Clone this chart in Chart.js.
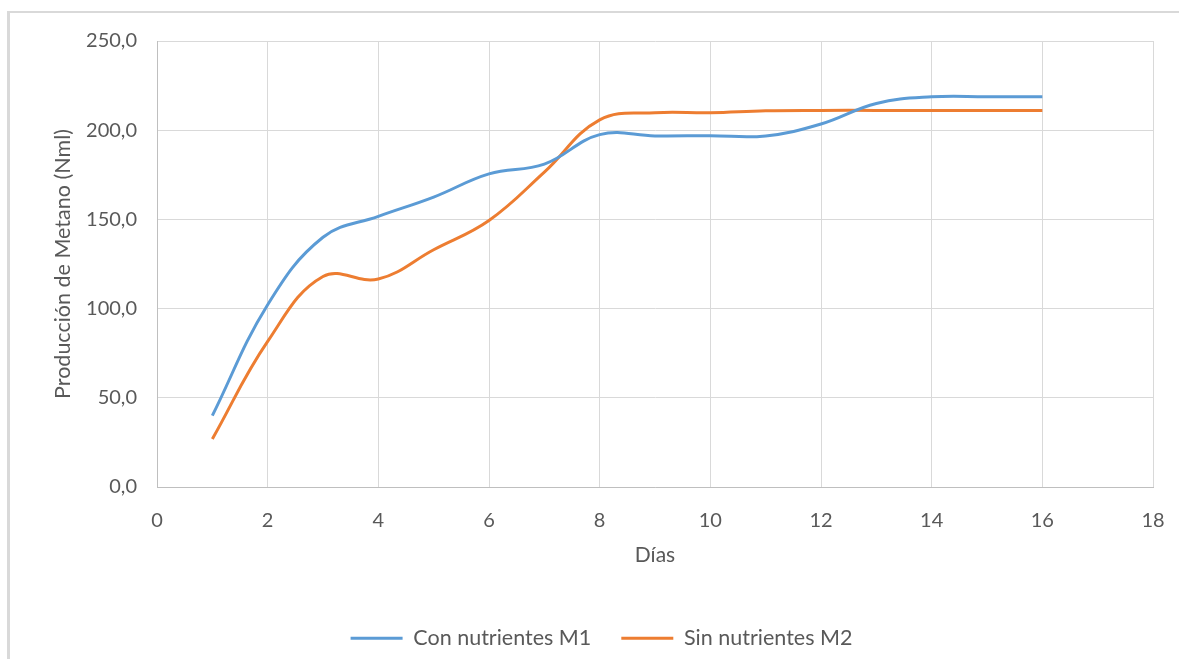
<!DOCTYPE html>
<html>
<head>
<meta charset="utf-8">
<script src="https://cdn.jsdelivr.net/npm/chart.js@4"></script>
<style>
    html, body { margin: 0; padding: 0; background: #fff; }
    #wrap { position: relative; width: 1179px; height: 659px; overflow: hidden; }
    #frame { position: absolute; left: 7px; top: 11px; width: 1300px; height: 800px;
             border-top: 2px solid #d9d9d9; border-left: 3px solid #d9d9d9; }
    canvas { position: absolute; left: 0; top: 0; }
</style>
</head>
<body>
<div id="wrap">
    <div id="frame"></div>
    <canvas id="metanoChart" width="1179" height="659"></canvas>
</div>
<script>
// Producción de metano por día

const dias = [1, 2, 3, 4, 5, 6, 7, 8, 9, 10, 11, 12, 13, 14, 15, 16];
const conNutrientesM1 = [40.0, 102.2, 140.0, 151.7, 162.5, 175.5, 181.0, 197.5, 196.8, 196.9, 196.8, 203.5, 215.0, 218.7, 218.8, 218.8];
const sinNutrientesM2 = [26.9, 81.6, 118.0, 116.6, 133.0, 149.4, 176.5, 205.8, 209.8, 209.8, 210.9, 211.1, 211.1, 211.1, 211.1, 211.1];
const xTicks = [0, 2, 4, 6, 8, 10, 12, 14, 16, 18];
const yTicks = [0, 50, 100, 150, 200, 250];

const textColor = '#595959';
const fontFamily = 'Lato, "Open Sans", sans-serif';

function toPoints(values) {
    return dias.map((d, i) => ({ x: d, y: values[i] }));
}

function createChart(chartId) {
    const ctx = document.getElementById(chartId).getContext('2d');
    const dataset = {
        datasets: [{
            label: 'Con nutrientes M1',
            data: toPoints(conNutrientesM1),
            borderColor: '#5b9bd5',
            backgroundColor: '#5b9bd5',
            borderWidth: 3,
            pointRadius: 0,
            tension: 0.4,
            pointStyle: 'line'
        }, {
            label: 'Sin nutrientes M2',
            data: toPoints(sinNutrientesM2),
            borderColor: '#ed7d31',
            backgroundColor: '#ed7d31',
            borderWidth: 3,
            pointRadius: 0,
            tension: 0.4,
            pointStyle: 'line'
        }]
    };
    const config = {
        type: 'line',
        data: dataset,
        options: {
            responsive: false,
            animation: false,
            layout: {
                padding: { left: 50, top: 41, right: 26, bottom: 0 }
            },
            scales: {
                x: {
                    type: 'linear',
                    min: 0,
                    max: 18,
                    afterBuildTicks: (scale) => {
                        scale.ticks = xTicks.map(v => ({ value: v }));
                    },
                    afterFit: (scale) => {
                        scale.height = scale.chart.height - scale.chart.legend.height - 487;
                    },
                    // invisible tick marks give the label gap without widening the side padding
                    grid: { color: '#d9d9d9', drawTicks: true, tickLength: 22, tickColor: 'rgba(0,0,0,0)' },
                    border: { color: '#bfbfbf', width: 1 },
                    ticks: {
                        padding: 0,
                        color: textColor,
                        font: { family: fontFamily, size: 20 }
                    },
                    title: {
                        display: true,
                        text: 'Días',
                        color: textColor,
                        padding: { top: 0, bottom: 30 },
                        font: { family: fontFamily, size: 21 }
                    }
                },
                y: {
                    min: 0,
                    max: 250,
                    afterBuildTicks: (scale) => {
                        scale.ticks = yTicks.map(v => ({ value: v }));
                    },
                    afterFit: (scale) => {
                        scale.width = 107;
                    },
                    grid: { color: '#d9d9d9', drawTicks: true, tickLength: 20, tickColor: 'rgba(0,0,0,0)' },
                    border: { color: '#bfbfbf', width: 1 },
                    ticks: {
                        padding: 0,
                        color: textColor,
                        font: { family: fontFamily, size: 20 },
                        callback: (value) => value.toFixed(1).replace('.', ',')
                    },
                    title: {
                        display: true,
                        text: 'Producción de Metano (Nml)',
                        color: textColor,
                        padding: { top: 0, bottom: 0 },
                        font: { family: fontFamily, size: 21.5 }
                    }
                }
            },
            plugins: {
                legend: {
                    position: 'bottom',
                    labels: {
                        usePointStyle: true,
                        pointStyleWidth: 52,
                        padding: 30,
                        color: textColor,
                        font: { family: fontFamily, size: 21.5 }
                    }
                },
                tooltip: { enabled: false }
            }
        }
    };
    return new Chart(ctx, config);
}

createChart('metanoChart');
</script>
</body>
</html>
